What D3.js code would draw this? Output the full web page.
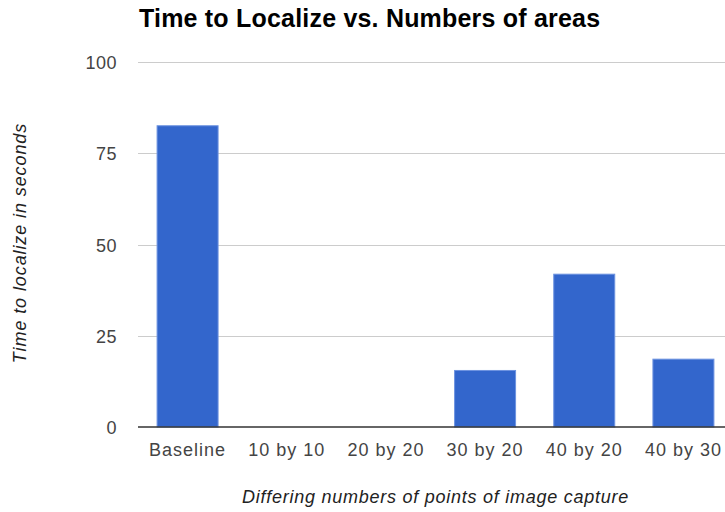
<!DOCTYPE html>
<html>
<head>
<meta charset="utf-8">
<script src="https://cdn.jsdelivr.net/npm/d3@7"></script>
<style>
  html, body { margin: 0; padding: 0; background: #fff; }
  svg { display: block; }
  text { font-family: "Liberation Sans", Arial, sans-serif; }
</style>
</head>
<body>
<svg id="chart" width="725" height="512"></svg>
<script>
// Time to localize for each capture grid
const categories = ["Baseline", "10 by 10", "20 by 20", "30 by 20", "40 by 20", "40 by 30"];
const seconds = [82.6, 0, 0, 15.5, 41.9, 18.6];
const yTicks = [0, 25, 50, 75, 100];

const svg = d3.select("#chart");
const W = 725, H = 512;

// plot area (the band range runs past the right edge, so the chart is cropped there)
const x = d3.scaleBand()
  .domain(categories)
  .range([138, 733])
  .paddingInner(0.385)
  .paddingOuter(0.1925);

const y = d3.scaleLinear()
  .domain([0, 100])
  .range([427, 62.3]);

// horizontal gridlines
svg.append("g")
  .selectAll("line")
  .data(yTicks.filter(d => d !== 0))
  .join("line")
  .attr("x1", 138).attr("x2", W)
  .attr("y1", d => Math.round(y(d)) + 0.5)
  .attr("y2", d => Math.round(y(d)) + 0.5)
  .attr("stroke", "#cccccc")
  .attr("stroke-width", 1);

// y axis labels
const yAxis = d3.axisLeft(y).tickValues(yTicks).tickSize(0).tickPadding(0).tickFormat(d3.format("d"));
const gy = svg.append("g").attr("transform", "translate(117,0)").call(yAxis);
gy.select(".domain").remove();
gy.selectAll("text")
  .attr("font-size", 18)
  .attr("fill", "#444")
  .attr("dy", "0.36em")
  .style("letter-spacing", "0.5px")
  .style("font-family", "'Liberation Sans', Arial, sans-serif");

// bars
svg.append("g")
  .selectAll("rect")
  .data(categories.map((c, i) => ({ c, v: seconds[i] })).filter(d => d.v > 0))
  .join("rect")
  .attr("x", d => x(d.c))
  .attr("width", x.bandwidth())
  .attr("y", d => y(d.v))
  .attr("height", d => y(0) - y(d.v))
  .attr("fill", "#3366cc")
  .attr("stroke", "#6d93e0")
  .attr("stroke-width", 1);

// baseline
svg.append("line")
  .attr("x1", 138).attr("x2", W)
  .attr("y1", y(0)).attr("y2", y(0))
  .attr("stroke", "#333")
  .attr("stroke-width", 1.5);

// x axis labels
const xAxis = d3.axisBottom(x).tickSize(0).tickPadding(0);
const gx = svg.append("g").attr("transform", "translate(0,456)").call(xAxis);
gx.select(".domain").remove();
gx.selectAll("text")
  .attr("font-size", 18)
  .attr("fill", "#444")
  .attr("dy", 0)
  .style("letter-spacing", "1px")
  .style("font-family", "'Liberation Sans', Arial, sans-serif");

// title
svg.append("text")
  .attr("x", 139).attr("y", 27)
  .attr("font-size", 25)
  .attr("font-weight", "bold")
  .attr("fill", "#000")
  .style("letter-spacing", "0.2px")
  .text("Time to Localize vs. Numbers of areas");

// axis titles
svg.append("text")
  .attr("x", 435.5).attr("y", 503)
  .attr("text-anchor", "middle")
  .attr("font-size", 18)
  .attr("font-style", "italic")
  .attr("fill", "#222")
  .style("letter-spacing", "0.75px")
  .text("Differing numbers of points of image capture");

svg.append("text")
  .attr("transform", "translate(26,243) rotate(-90)")
  .attr("text-anchor", "middle")
  .attr("font-size", 18)
  .attr("font-style", "italic")
  .attr("fill", "#222")
  .style("letter-spacing", "0.9px")
  .text("Time to localize in seconds");
</script>
</body>
</html>
